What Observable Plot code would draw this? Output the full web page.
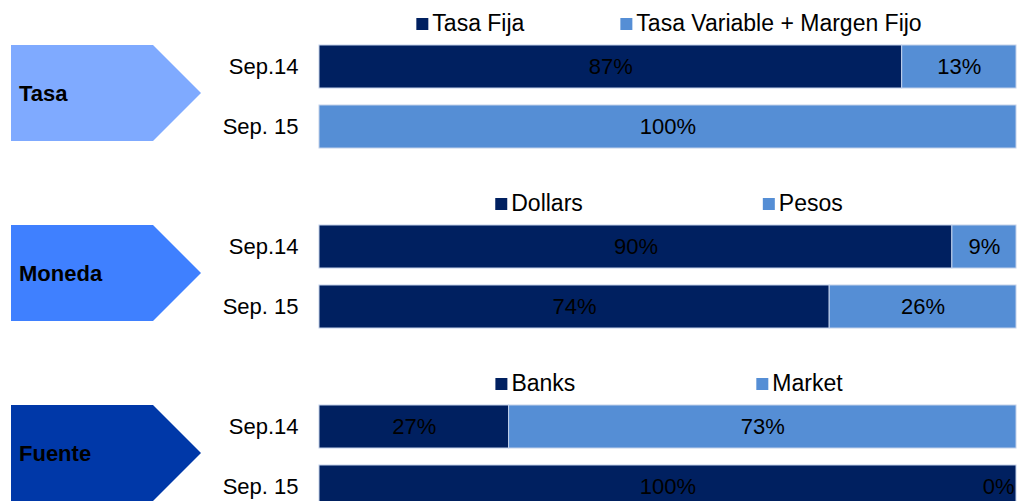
<!DOCTYPE html>
<html>
<head>
<meta charset="utf-8">
<script src="https://cdn.jsdelivr.net/npm/d3@7"></script>
<script src="https://cdn.jsdelivr.net/npm/@observablehq/plot@0.6"></script>
<style>
  html, body { margin: 0; padding: 0; background: #fff; }
  #chart { width: 1022px; height: 501px; overflow: hidden; }
</style>
</head>
<body>
<div id="chart"></div>
<script>
// ---- data ----
const panels = ["Tasa", "Moneda", "Fuente"];
const periods = ["Sep.14", "Sep. 15"];
const seriesNames = [
  ["Tasa Fija", "Tasa Variable + Margen Fijo"],
  ["Dollars", "Pesos"],
  ["Banks", "Market"]
];
// bar shares as drawn (per panel, per period)
const darkShare = [[83.6, 0], [90.8, 73.2], [27.2, 100]];
const lightShare = [[16.4, 100], [9.2, 26.8], [72.8, 0]];
// printed labels
const darkLabels = [["87%", ""], ["90%", "74%"], ["27%", "100%"]];
const lightLabels = [["13%", "100%"], ["9%", "26%"], ["73%", "0%"]];

// ---- style ----
const DARK = "#002060";
const LIGHT = "#558ED5";
const arrowColors = ["#7FAAFF", "#3F80FF", "#0038A8"];
const FONT = "'Liberation Sans', Arial, sans-serif";
const FS = 22;
const LFS = 23;
const legendGap = [96, 180, 181];

// ---- build table ----
const rows = [];
const yDomain = [];
panels.forEach((p, i) => {
  yDomain.push("legend-" + i);
  periods.forEach((per, j) => {
    const key = p + "|" + per;
    yDomain.push(key);
    rows.push({key, panel: p, s: 0, value: darkShare[i][j], label: darkLabels[i][j]});
    rows.push({key, panel: p, s: 1, value: lightShare[i][j], label: lightLabels[i][j]});
  });
});

// text measurement for legend layout
const ctx = document.createElement("canvas").getContext("2d");
ctx.font = `${LFS}px ${FONT}`;
const measure = (t) => ctx.measureText(t).width;

const legendMarks = [];
seriesNames.forEach((names, i) => {
  const SQ = 12, PAD = 4;
  const widths = names.map(n => SQ + PAD + measure(n));
  const total = widths.reduce((a, b) => a + b, 0) + legendGap[i] * (names.length - 1);
  let left = -total / 2 + 1;
  names.forEach((n, j) => {
    const d = [{y: "legend-" + i, name: n, s: j}];
    legendMarks.push(Plot.dot(d, {
      x: () => 50, y: "y", fill: "s", symbol: "square", r: 6.77,
      dx: left + SQ / 2, dy: 17
    }));
    legendMarks.push(Plot.text(d, {
      x: () => 50, y: "y", text: "name", textAnchor: "start",
      dx: left + SQ + PAD, dy: 17, fontSize: LFS, fill: "#000"
    }));
    left += widths[j] + legendGap[i];
  });
});

// arrows (decorative shapes in the left margin, placed against the y scale)
function arrows(index, scales) {
  const y = scales.y;
  const bw = typeof y.bandwidth === "function" ? y.bandwidth() : (y.bandwidth ?? 43);
  const g = d3.create("svg:g");
  panels.forEach((p, i) => {
    const r1 = y(p + "|" + periods[0]);
    const r2 = y(p + "|" + periods[1]);
    const top = r1 + 0;
    const h = (r2 + bw - r1) - 7;
    const mid = top + h / 2;
    const xl = 11, xs = 153, xt = 201;
    g.append("path")
      .attr("d", `M${xl},${top}H${xs}L${xt},${mid}L${xs},${top + h}H${xl}Z`)
      .attr("fill", arrowColors[i]);
    g.append("text")
      .attr("x", 19)
      .attr("y", mid)
      .attr("dy", "0.35em")
      .attr("text-anchor", "start")
      .attr("font-family", FONT)
      .attr("font-size", FS)
      .attr("font-weight", "bold")
      .attr("fill", "#000")
      .text(p);
  });
  return g.node();
}

const chart = Plot.plot({
  width: 1022,
  height: 501,
  marginLeft: 319,
  marginRight: 6,
  marginTop: 0,
  marginBottom: 0,
  style: {fontFamily: FONT, fontSize: FS + "px", color: "#000", background: "#fff"},
  x: {domain: [0, 100], axis: null},
  y: {
    type: "band",
    domain: yDomain,
    range: [-23, 517],
    paddingInner: 0.283,
    paddingOuter: 0.1415,
    axis: null
  },
  color: {type: "ordinal", domain: [0, 1], range: [DARK, LIGHT]},
  marks: [
    arrows,
    Plot.barX(rows, {
      x: "value", y: "key", fill: "s",
      stroke: "#c3d1ea", strokeWidth: 1
    }),
    Plot.text(rows, Plot.stackX({
      x: "value", y: "key",
      text: d => (d.value > 0 ? d.label : ""),
      fontSize: FS, fill: "#000"
    })),
    Plot.text(rows, Plot.stackX2({
      x: "value", y: "key",
      text: d => (d.value === 0 ? d.label : ""),
      textAnchor: "end", dx: -2,
      fontSize: FS, fill: "#000"
    })),
    Plot.axisY({
      tickSize: 0,
      tickPadding: 21,
      fontSize: FS,
      label: null,
      tickFormat: k => (k.startsWith("legend-") ? "" : k.split("|")[1])
    }),
    ...legendMarks
  ]
});

document.getElementById("chart").appendChild(chart);
</script>
</body>
</html>
